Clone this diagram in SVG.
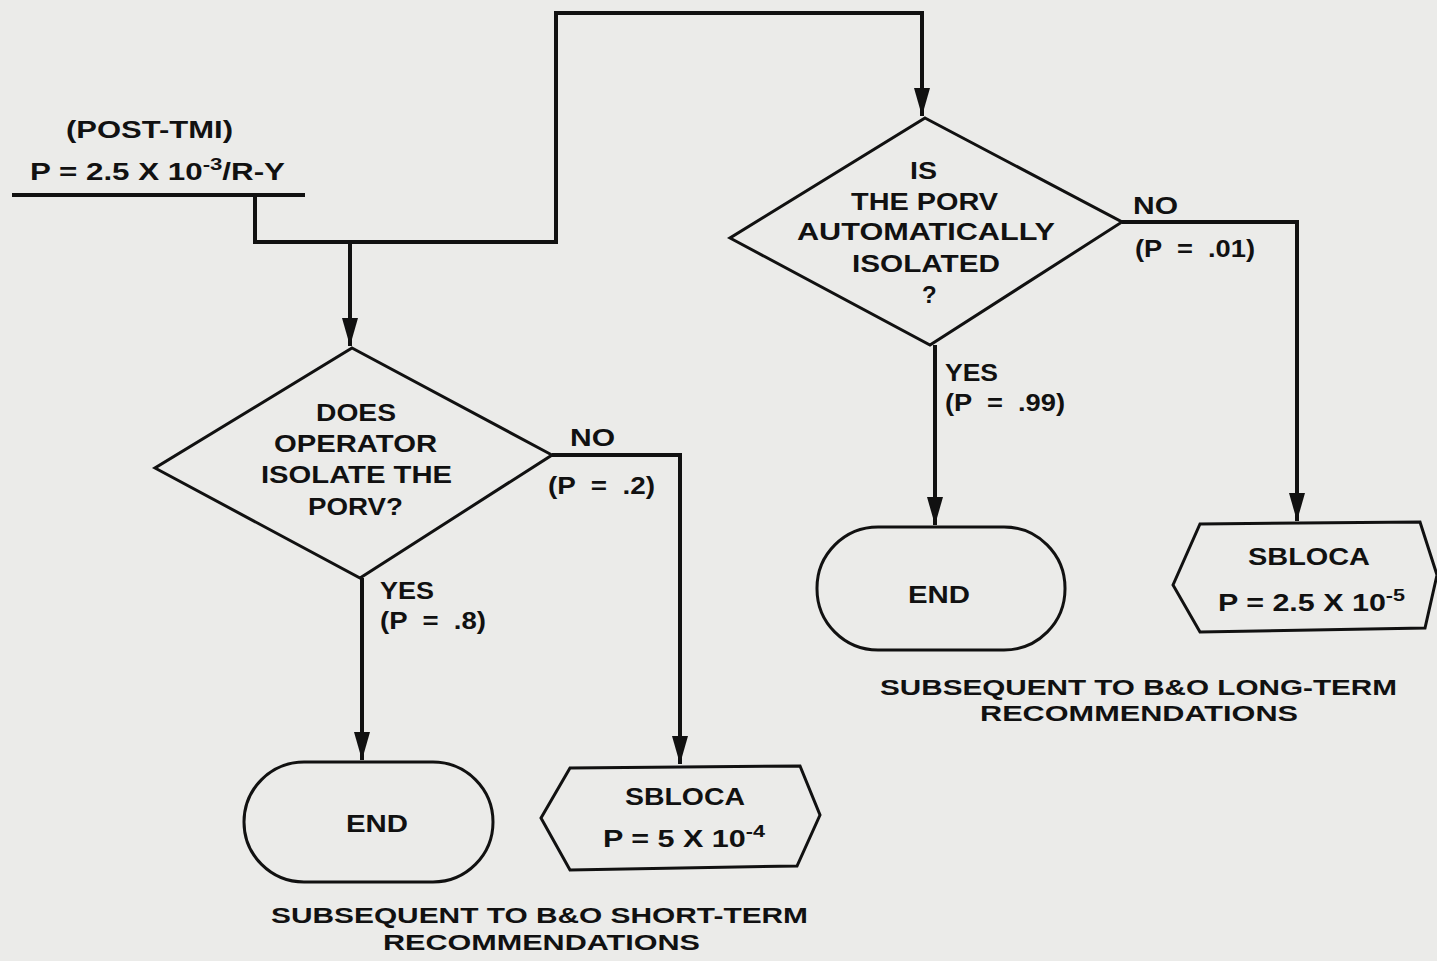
<svg xmlns="http://www.w3.org/2000/svg" width="1437" height="961" viewBox="0 0 1437 961">
<defs>
<marker id="arr" markerUnits="userSpaceOnUse" markerWidth="28" markerHeight="16" refX="28" refY="8" orient="auto" viewBox="0 0 28 16">
<path d="M0,0 L28,8 L0,16 Z" fill="#111"/>
</marker>
<style>
.t{font-family:"Liberation Sans",Arial,sans-serif;font-weight:bold;font-size:24px;fill:#111;white-space:pre}
.cap{font-size:22px}
.s{font-size:17px}
.shape{fill:none;stroke:#111;stroke-width:3}
.c{fill:none;stroke:#111;stroke-width:4}
</style>
</defs>
<rect width="1437" height="961" fill="#ebebe9"/>

<g id="start">
<text class="t" x="66" y="138" textLength="167" lengthAdjust="spacingAndGlyphs">(POST-TMI)</text>
<text class="t" x="30" y="180" textLength="255" lengthAdjust="spacingAndGlyphs">P = 2.5 X 10<tspan class="s" dy="-10">-3</tspan><tspan dy="10">/R-Y</tspan></text>
<line x1="12" y1="195" x2="305" y2="195" stroke="#111" stroke-width="4"/>
</g>

<g id="connectors">
<path class="c" d="M255,195 V242 H556 V13 H922 V116" marker-end="url(#arr)"/>
<path class="c" d="M350,242 V346" marker-end="url(#arr)"/>
<path class="c" d="M552,455 H680 V764" marker-end="url(#arr)"/>
<path class="c" d="M362,578 V760" marker-end="url(#arr)"/>
<path class="c" d="M1122,222 H1297 V521" marker-end="url(#arr)"/>
<path class="c" d="M935,345 V525" marker-end="url(#arr)"/>
<text class="t" x="570" y="446" textLength="45" lengthAdjust="spacingAndGlyphs">NO</text>
<text class="t" x="548" y="494" textLength="107" lengthAdjust="spacingAndGlyphs">(P  =  .2)</text>
<text class="t" x="380" y="599" textLength="54" lengthAdjust="spacingAndGlyphs">YES</text>
<text class="t" x="380" y="629" textLength="106" lengthAdjust="spacingAndGlyphs">(P  =  .8)</text>
<text class="t" x="1133" y="214" textLength="45" lengthAdjust="spacingAndGlyphs">NO</text>
<text class="t" x="1135" y="257" textLength="120" lengthAdjust="spacingAndGlyphs">(P  =  .01)</text>
<text class="t" x="945" y="381" textLength="53" lengthAdjust="spacingAndGlyphs">YES</text>
<text class="t" x="945" y="411" textLength="120" lengthAdjust="spacingAndGlyphs">(P  =  .99)</text>
</g>

<g id="q1">
<polygon class="shape" points="352,348 552,455 360,578 155,468"/>
<text class="t" x="316" y="421" textLength="80" lengthAdjust="spacingAndGlyphs">DOES</text>
<text class="t" x="274" y="452" textLength="163" lengthAdjust="spacingAndGlyphs">OPERATOR</text>
<text class="t" x="261" y="483" textLength="191" lengthAdjust="spacingAndGlyphs">ISOLATE THE</text>
<text class="t" x="308" y="515" textLength="95" lengthAdjust="spacingAndGlyphs">PORV?</text>
</g>

<g id="q2">
<polygon class="shape" points="925,118 1122,222 930,345 730,238"/>
<text class="t" x="910" y="179" textLength="27" lengthAdjust="spacingAndGlyphs">IS</text>
<text class="t" x="851" y="210" textLength="147" lengthAdjust="spacingAndGlyphs">THE PORV</text>
<text class="t" x="797" y="240" textLength="258" lengthAdjust="spacingAndGlyphs">AUTOMATICALLY</text>
<text class="t" x="852" y="272" textLength="148" lengthAdjust="spacingAndGlyphs">ISOLATED</text>
<text class="t" x="922" y="303">?</text>
</g>

<g id="end1">
<rect class="shape" x="244" y="762" width="249" height="120" rx="60" ry="60"/>
<text class="t" x="346" y="832" textLength="62" lengthAdjust="spacingAndGlyphs">END</text>
</g>

<g id="sbloca1">
<polygon class="shape" points="541,818 570,768 800,766 820,815 797,866 570,870"/>
<text class="t" x="625" y="805" textLength="120" lengthAdjust="spacingAndGlyphs">SBLOCA</text>
<text class="t" x="603" y="847" textLength="162" lengthAdjust="spacingAndGlyphs">P = 5 X 10<tspan class="s" dy="-10">-4</tspan></text>
</g>

<g id="end2">
<rect class="shape" x="817" y="527" width="248" height="123" rx="61" ry="61"/>
<text class="t" x="908" y="603" textLength="62" lengthAdjust="spacingAndGlyphs">END</text>
</g>

<g id="sbloca2">
<polygon class="shape" points="1173,585 1200,524 1420,522 1437,575 1425,628 1200,632"/>
<text class="t" x="1248" y="565" textLength="122" lengthAdjust="spacingAndGlyphs">SBLOCA</text>
<text class="t" x="1218" y="611" textLength="187" lengthAdjust="spacingAndGlyphs">P = 2.5 X 10<tspan class="s" dy="-10">-5</tspan></text>
</g>

<g id="captions">
<text class="t cap" x="271" y="923" textLength="537" lengthAdjust="spacingAndGlyphs">SUBSEQUENT TO B&amp;O SHORT-TERM</text>
<text class="t cap" x="383" y="950" textLength="317" lengthAdjust="spacingAndGlyphs">RECOMMENDATIONS</text>
<text class="t cap" x="880" y="695" textLength="517" lengthAdjust="spacingAndGlyphs">SUBSEQUENT TO B&amp;O LONG-TERM</text>
<text class="t cap" x="980" y="721" textLength="318" lengthAdjust="spacingAndGlyphs">RECOMMENDATIONS</text>
</g>
</svg>
